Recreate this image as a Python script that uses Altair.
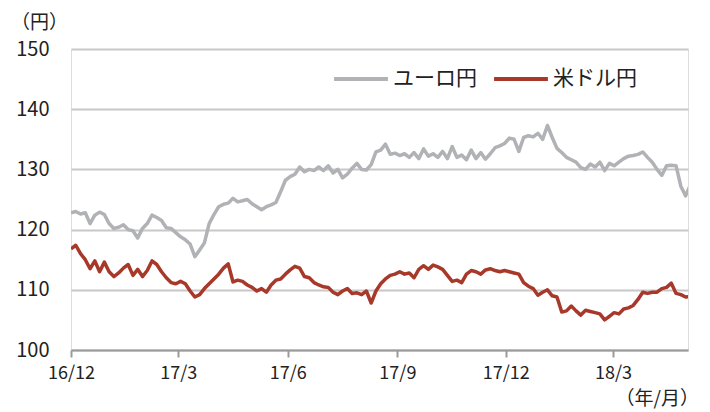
import altair as alt
import pandas as pd

dates = pd.date_range("2016-12-01", periods=131, freq="4D")

eur_jpy = [
    122.8, 123.0, 122.6, 122.8, 121.0, 122.4, 122.9, 122.5, 121.0, 120.2,
    120.4, 120.8, 120.0, 119.8, 118.6, 120.2, 121.0, 122.4, 122.0, 121.5,
    120.3, 120.2, 119.5, 118.8, 118.3, 117.6, 115.5, 116.6, 117.8, 121.0,
    122.5, 123.8, 124.2, 124.4, 125.2, 124.6, 124.8, 125.0, 124.3, 123.8,
    123.3, 123.8, 124.1, 124.5, 126.3, 128.2, 128.8, 129.2, 130.4, 129.6,
    130.0, 129.8, 130.4, 129.8, 130.6, 129.4, 130.0, 128.6, 129.2, 130.2,
    131.0, 130.0, 129.9, 130.8, 132.9, 133.2, 134.2, 132.5, 132.7, 132.3,
    132.6, 132.0, 132.8, 131.8, 133.4, 132.2, 132.6, 132.0, 133.0, 131.8,
    133.8, 132.0, 132.4, 131.6, 133.2, 131.8, 132.8, 131.7, 132.6, 133.6,
    133.9, 134.3, 135.2, 135.0, 133.0, 135.3, 135.6, 135.4, 136.0, 135.0,
    137.3, 135.3, 133.5, 132.8, 132.0, 131.6, 131.2, 130.3, 130.0, 130.9,
    130.4, 131.2, 129.8, 131.0, 130.6, 131.2, 131.8, 132.2, 132.3, 132.5,
    132.9, 132.0, 131.2, 130.0, 129.0, 130.6, 130.7, 130.6, 127.2, 125.6,
    127.4,
]

usd_jpy = [
    116.8, 117.4, 116.0, 115.0, 113.5, 114.8, 113.0, 114.6, 113.0, 112.2,
    112.8, 113.6, 114.2, 112.4, 113.4, 112.2, 113.2, 114.8, 114.2, 113.0,
    112.0, 111.2, 111.0, 111.4, 111.0, 109.8, 108.8, 109.2, 110.2, 111.0,
    111.8, 112.6, 113.6, 114.3, 111.3, 111.6, 111.4, 110.8, 110.4, 109.8,
    110.2, 109.6, 110.8, 111.6, 111.8, 112.6, 113.3, 113.9, 113.6, 112.2,
    112.0, 111.2, 110.8, 110.5, 110.4, 109.6, 109.2, 109.8, 110.2, 109.4,
    109.5, 109.2, 109.8, 107.8, 109.8, 111.0, 111.8, 112.4, 112.6, 113.0,
    112.6, 112.8, 112.0, 113.4, 114.0, 113.4, 114.1, 113.8, 113.4, 112.4,
    111.4, 111.6, 111.2, 112.6, 113.2, 113.0, 112.6, 113.3, 113.5, 113.2,
    113.0, 113.2, 113.0, 112.8, 112.6, 111.2, 110.6, 110.2, 109.1, 109.6,
    110.0, 109.0, 108.8, 106.3, 106.5, 107.3, 106.5, 105.8, 106.6, 106.4,
    106.2, 106.0, 105.0, 105.6, 106.2, 106.0, 106.8, 107.0, 107.4, 108.4,
    109.6, 109.4, 109.6, 109.6, 110.2, 110.4, 111.1, 109.4, 109.2, 108.8,
    108.9,
]

series_names = ["ユーロ円", "米ドル円"]
series_colors = ["#b1b2b6", "#a8392a"]
y_ticks = [100, 110, 120, 130, 140, 150]
x_ticks = [(2016, 12), (2017, 3), (2017, 6), (2017, 9), (2017, 12), (2018, 3)]
y_unit = "（円）"
x_unit = "（年/月）"

FONT = "Noto Sans CJK JP"

df = pd.DataFrame({
    "date": list(dates) * 2,
    "value": eur_jpy + usd_jpy,
    "series": [series_names[0]] * len(eur_jpy) + [series_names[1]] * len(usd_jpy),
})

x_scale = alt.Scale(
    domain=[alt.DateTime(year=2016, month=12, date=1), alt.DateTime(year=2018, month=5, date=3)],
    nice=False,
)

lines = alt.Chart(df).mark_line(strokeWidth=3.5, clip=True, strokeJoin="round").encode(
    x=alt.X(
        "date:T",
        scale=x_scale,
        axis=alt.Axis(
            values=[alt.DateTime(year=y, month=m, date=1) for y, m in x_ticks],
            format="%y/%-m",
            title=None,
            grid=False,
            domainColor="#9a9a9a",
            domainWidth=2,
            tickColor="#9a9a9a",
            tickWidth=2,
            tickSize=7,
            labelFontSize=18,
            labelPadding=7,
            labelFlush=False,
            labelColor="#222222",
            labelFont=FONT,
        ),
    ),
    y=alt.Y(
        "value:Q",
        scale=alt.Scale(domain=[100, 150], nice=False, zero=False),
        axis=alt.Axis(
            values=y_ticks,
            title=None,
            domain=False,
            ticks=False,
            gridColor="#c8c8c8",
            gridWidth=2,
            labelPadding=22,
            labelFontSize=20,
            labelColor="#222222",
            labelFont=FONT,
        ),
    ),
    color=alt.Color(
        "series:N",
        scale=alt.Scale(domain=series_names, range=series_colors),
        legend=alt.Legend(
            orient="none",
            legendX=261,
            legendY=1,
            direction="horizontal",
            title=None,
            symbolType="stroke",
            symbolStrokeWidth=4,
            symbolSize=2900,
            labelFontSize=21,
            labelFont=FONT,
            labelColor="#222222",
            labelOffset=3,
            columnPadding=9,
        ),
    ),
)

y_label = alt.Chart(pd.DataFrame({"t": [y_unit]})).mark_text(
    fontSize=19, font=FONT, color="#222222", align="left", baseline="middle"
).encode(x=alt.value(-60), y=alt.value(-26), text="t:N")

x_label = alt.Chart(pd.DataFrame({"t": [x_unit]})).mark_text(
    fontSize=19, font=FONT, color="#222222", align="right", baseline="middle"
).encode(x=alt.value(628), y=alt.value(350), text="t:N")

chart = alt.layer(lines, y_label, x_label).properties(
    width=617,
    height=301,
    autosize=alt.AutoSizeParams(type="none"),
    padding={"left": 63, "top": 41, "right": 14, "bottom": 62},
).configure_view(stroke=None).configure(font=FONT)

chart.save("out.html", embed_options={"renderer": "svg", "actions": False})
